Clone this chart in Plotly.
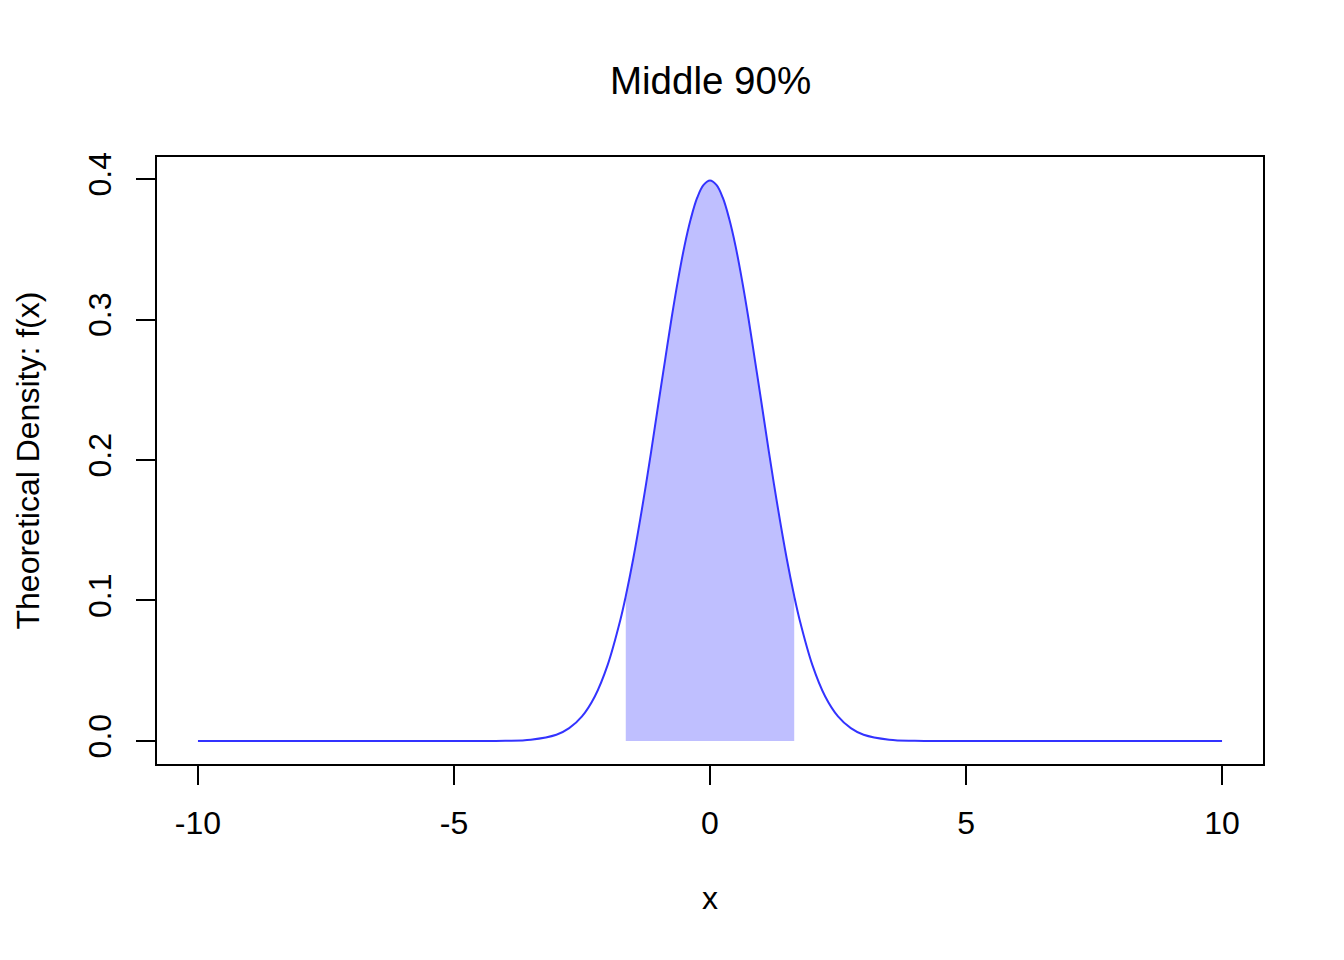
import plotly.graph_objects as go

### Values ###
x_vals = [-10, -5, -4, -3.5, -3, -2.75, -2.5, -2.25, -2, -1.75, -1.645, -1.5, -1.25, -1, -0.875, -0.75, -0.625,
          -0.5, -0.375, -0.25, -0.125, 0, 0.125, 0.25, 0.375, 0.5, 0.625, 0.75, 0.875, 1, 1.25, 1.5, 1.645,
          1.75, 2, 2.25, 2.5, 2.75, 3, 3.5, 4, 5, 10]
density = [0, 0, 0.0001, 0.0009, 0.0044, 0.0091, 0.0175, 0.0317, 0.054, 0.0863, 0.1031, 0.1295, 0.1826, 0.242, 0.2717, 0.3011, 0.3281,
           0.3521, 0.3717, 0.3867, 0.3958, 0.3989, 0.3958, 0.3867, 0.3717, 0.3521, 0.3281, 0.3011, 0.2717, 0.242, 0.1826, 0.1295, 0.1031,
           0.0863, 0.054, 0.0317, 0.0175, 0.0091, 0.0044, 0.0009, 0.0001, 0, 0]
shade_lo = -1.645
shade_hi = 1.645

x_ticks = [-10, -5, 0, 5, 10]
x_tick_labels = ['-10', '-5', '0', '5', '10']
y_ticks = [0, 0.1, 0.2, 0.3, 0.4]
y_tick_labels = ['0.0', '0.1', '0.2', '0.3', '0.4']

title_text = 'Middle 90%'
x_title = 'x'
y_title = 'Theoretical Density: f(x)'

shade_x = [x for x in x_vals if shade_lo <= x <= shade_hi]
shade_y = [y for x, y in zip(x_vals, density) if shade_lo <= x <= shade_hi]

fig = go.Figure()

# shaded middle region
fig.add_trace(go.Scatter(
    x=shade_x, y=shade_y,
    mode='lines', fill='tozeroy', fillcolor='#BFBFFF',
    line=dict(width=0, shape='spline', smoothing=1, color='#BFBFFF'),
    hoverinfo='skip',
))

# density curve
fig.add_trace(go.Scatter(
    x=x_vals, y=density,
    mode='lines',
    line=dict(color='#3333FF', width=2, shape='spline', smoothing=1),
))

font_name = 'Liberation Sans, Arial, sans-serif'

# page body has an 8px margin, so the figure is shrunk by that much
fig.update_layout(
    width=1336, height=952,
    margin=dict(l=149, r=81, t=149, b=196),
    paper_bgcolor='white', plot_bgcolor='white',
    showlegend=False,
    font=dict(family=font_name, size=32, color='black'),
)

fig.update_xaxes(range=[-10.8, 10.8], tickvals=x_ticks, ticktext=x_tick_labels, ticks='outside', ticklen=19, tickwidth=2,
                 tickcolor='black', showline=True, mirror=True, linewidth=2, linecolor='black',
                 showgrid=False, zeroline=False, ticklabelstandoff=11,
                 tickfont=dict(family=font_name, size=32, color='black'))
fig.update_yaxes(range=[-0.0164, 0.4157], tickvals=y_ticks, ticktext=y_tick_labels, tickangle=-90,
                 ticks='outside', ticklen=19, tickwidth=2,
                 tickcolor='black', showline=True, mirror=True, linewidth=2, linecolor='black',
                 showgrid=False, zeroline=False, ticklabelstandoff=12,
                 tickfont=dict(family=font_name, size=32, color='black'))

# title and axis titles placed like base R graphics
fig.add_annotation(text=title_text, xref='paper', yref='paper', x=0.5, y=1, yshift=77,
                   showarrow=False, yanchor='middle', font=dict(family=font_name, size=38.5, color='black'))
fig.add_annotation(text=x_title, xref='paper', yref='paper', x=0.5, y=0, yshift=-134,
                   showarrow=False, yanchor='middle', font=dict(family=font_name, size=32, color='black'))
fig.add_annotation(text=y_title, xref='paper', yref='paper', x=0, y=0.5, xshift=-130,
                   showarrow=False, xanchor='center', textangle=-90,
                   font=dict(family=font_name, size=32, color='black'))

fig.write_html("out.html")
